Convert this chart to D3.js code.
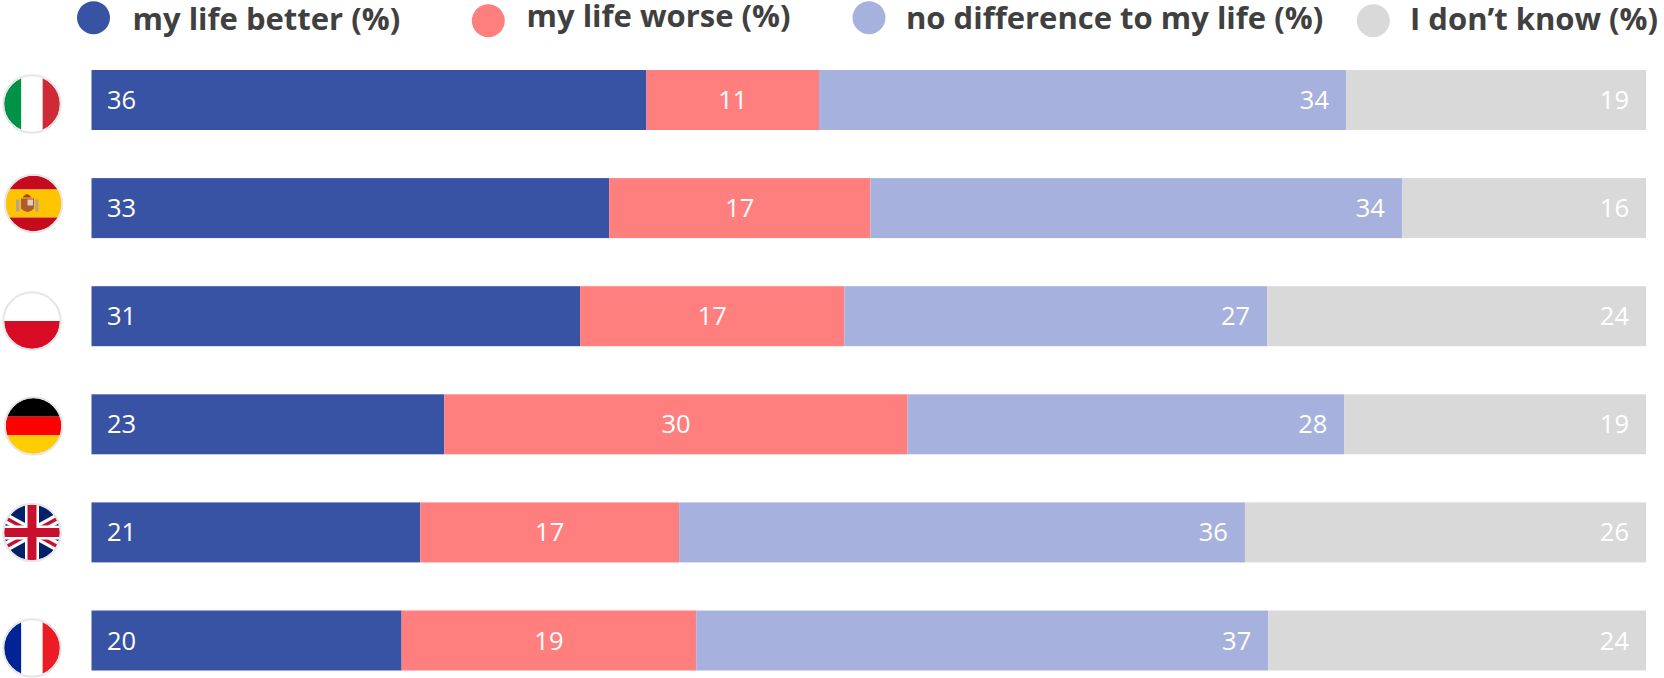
<!DOCTYPE html>
<html><head><meta charset="utf-8">
<script src="https://cdnjs.cloudflare.com/ajax/libs/d3/7.8.5/d3.min.js"></script>
<style>html,body{margin:0;padding:0;background:#fff}svg{display:block}</style>
</head><body><div id="chart"></div>
<script>
const countries = ["Italy","Spain","Poland","Germany","United Kingdom","France"];
const seriesNames = ["my life better (%)","my life worse (%)","no difference to my life (%)","I don’t know (%)"];
const better = [35.7,33.3,31.43,22.7,21.15,19.95];
const worse = [11.1,16.8,17.0,29.8,16.65,18.95];
const noDiff = [33.9,34.2,27.2,28.1,36.4,36.8];
const dontKnow = [19.3,15.7,24.37,19.4,25.8,24.3];
const colors = ["#3853A4","#FF7F7F","#A6B2DD","#D9D9D9"];
const series = [better,worse,noDiff,dontKnow];

const W=1664,H=678;
const svg=d3.select("#chart").append("svg").attr("width",W).attr("height",H);
const x=d3.scaleLinear().domain([0,100]).range([91.5,1646]);
const y=d3.scaleBand().domain(countries).range([70,670.5]).paddingInner(0.445).paddingOuter(0);
const font="'Open Sans',sans-serif";

const stacked=countries.map((c,i)=>{let acc=0;return series.map((s,k)=>{const d={c,k,v:s[i],x0:acc,x1:acc+s[i]};acc+=s[i];return d;});});
const rows=svg.selectAll("g.row").data(stacked).join("g").attr("class","row");
rows.selectAll("rect").data(d=>d).join("rect")
 .attr("x",d=>x(d.x0)).attr("width",d=>x(d.x1)-x(d.x0))
 .attr("y",d=>y(d.c)).attr("height",y.bandwidth()).attr("fill",d=>colors[d.k]);
rows.selectAll("text").data(d=>d).join("text")
 .attr("x",d=>{ if(d.k===0) return x(d.x0)+15.5; if(d.k===1) return (x(d.x0)+x(d.x1))/2; return x(d.x1)-17;})
 .attr("y",d=>y(d.c)+y.bandwidth()/2+9)
 .attr("text-anchor",d=>d.k===0?"start":d.k===1?"middle":"end")
 .attr("fill","#fff").attr("font-family",font).attr("font-size",25.5)
 .text(d=>Math.round(d.v));

// legend
const legendCx=[93.5,488.3,869,1373.3];
const legendCy=[17.7,20.7,17.7,20.7];
const legendTx=[132.5,526.5,906,1410];
const legendTy=[30,26.7,28.5,30];
const lg=svg.selectAll("g.lg").data(seriesNames).join("g").attr("class","lg");
lg.append("circle").attr("cx",(d,i)=>legendCx[i]).attr("cy",(d,i)=>legendCy[i]).attr("r",16.5).attr("fill",(d,i)=>colors[i]);
lg.append("text").attr("x",(d,i)=>legendTx[i]).attr("y",(d,i)=>legendTy[i])
 .attr("font-family",font).attr("font-weight",700).attr("font-size",31).attr("fill","#404040").text(d=>d);

// flags
const flagCx=[32,33.5,32,33.5,32,32];
const flagCy=[104,203.5,321,426,532.5,648];
const flagR=28;
const stripesV={Italy:["#009246","#FFFFFF","#CE2B37"],France:["#002395","#FFFFFF","#ED1C24"]};
const stripesH={Spain:[["#C60B1E",.25],["#FFC400",.5],["#C60B1E",.25]],Poland:[["#FFFFFF",.5],["#D80C24",.5]],Germany:[["#000000",1/3],["#FF0000",1/3],["#FFCC00",1/3]]};
const defs=svg.append("defs");
countries.forEach((c,i)=>{
 const cx=flagCx[i],cy=flagCy[i],r=flagR;
 defs.append("clipPath").attr("id","clip"+i).append("circle").attr("cx",cx).attr("cy",cy).attr("r",r);
 const g=svg.append("g").attr("clip-path",`url(#clip${i})`);
 if(stripesV[c]){
  const sw=[.31,.38,.31];let a=cx-r;
  stripesV[c].forEach((col,k)=>{g.append("rect").attr("x",a).attr("y",cy-r).attr("width",2*r*sw[k]).attr("height",2*r).attr("fill",col);a+=2*r*sw[k];});
 } else if(stripesH[c]){
  let a=cy-r;
  stripesH[c].forEach(([col,f])=>{g.append("rect").attr("x",cx-r).attr("y",a).attr("width",2*r).attr("height",2*r*f).attr("fill",col);a+=2*r*f;});
  if(c==="Spain"){
   g.append("rect").attr("x",cx-17.5).attr("y",cy-4).attr("width",3.5).attr("height",12).attr("fill","#B9A48C");
   g.append("rect").attr("x",cx+1.5).attr("y",cy-4).attr("width",3.5).attr("height",12).attr("fill","#B9A48C");
   g.append("path").attr("d",`M${cx-12.5},${cy-5}h13v10q-6.5,7 -13,0z`).attr("fill","#AD5A2C");
   g.append("rect").attr("x",cx-6).attr("y",cy-4).attr("width",5.5).attr("height",6).attr("fill","#E7C8CC");
   g.append("path").attr("d",`M${cx-11},${cy-6}q4.5,-7 9,0z`).attr("fill","#A8451F");
  }
 } else {
  g.append("rect").attr("x",cx-r).attr("y",cy-r).attr("width",2*r).attr("height",2*r).attr("fill","#012169");
  const s=(w,col)=>{[[-1,-1,1,1],[-1,1,1,-1]].forEach(p=>g.append("line").attr("x1",cx+p[0]*r).attr("y1",cy+p[1]*r*.55).attr("x2",cx+p[2]*r).attr("y2",cy+p[3]*r*.55).attr("stroke",col).attr("stroke-width",w));};
  s(10,"#FFFFFF"); s(3.5,"#C8102E");
  g.append("rect").attr("x",cx-r).attr("y",cy-7).attr("width",2*r).attr("height",14).attr("fill","#fff");
  g.append("rect").attr("x",cx-7).attr("y",cy-r).attr("width",14).attr("height",2*r).attr("fill","#fff");
  g.append("rect").attr("x",cx-r).attr("y",cy-4.5).attr("width",2*r).attr("height",9).attr("fill","#C8102E");
  g.append("rect").attr("x",cx-4.5).attr("y",cy-r).attr("width",9).attr("height",2*r).attr("fill","#C8102E");
 }
 svg.append("circle").attr("cx",cx).attr("cy",cy).attr("r",r+0.7).attr("fill","none").attr("stroke","#E6E6E6").attr("stroke-width",2);
});
</script></body></html>
